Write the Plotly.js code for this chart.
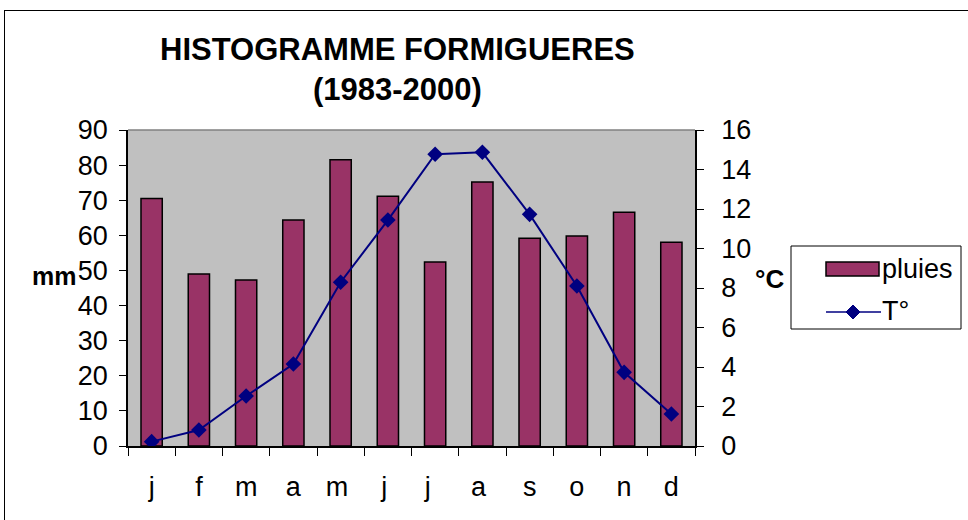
<!DOCTYPE html>
<html>
<head>
<meta charset="utf-8">
<script src="https://cdn.plot.ly/plotly-3.0.1.min.js"></script>
<style>
html,body{margin:0;padding:0;background:#fff;overflow:hidden;}
#frame{position:absolute;left:4px;top:10px;width:1200px;height:800px;border:1.5px solid #000;}
#chart{position:absolute;left:0;top:0;width:968px;height:520px;}
</style>
</head>
<body>
<div id="frame"></div>
<div id="chart"></div>
<script>
var months = ['j','f','m','a','m ','j ','j  ','a ','s','o','n','d'];
var pluies = [70.5, 49.0, 47.3, 64.4, 81.5, 71.1, 52.4, 75.2, 59.2, 59.8, 66.6, 58.0];
var temp = [0.22, 0.81, 2.53, 4.15, 8.29, 11.44, 14.77, 14.87, 11.73, 8.10, 3.73, 1.62];
var yTicks = [0,10,20,30,40,50,60,70,80,90];
var y2Ticks = [0,2,4,6,8,10,12,14,16];
var seriesNames = ['pluies', 'T°'];

var font = 'Liberation Sans, Arial, sans-serif';
var barColor = '#993366', lineColor = '#000080';

var traces = [
  {
    type: 'bar', x: months, y: pluies, name: seriesNames[0], yaxis: 'y',
    marker: {color: barColor, line: {color: '#000', width: 1.5}}
  },
  {
    type: 'scatter', mode: 'lines+markers', x: months, y: temp, name: seriesNames[1], yaxis: 'y2',
    line: {color: lineColor, width: 2},
    marker: {symbol: 'diamond', size: 12, color: lineColor}
  }
];

// plot-area pixel geometry helpers (for title/legend placement only)
var L = 128, R = 695, T = 130, B = 446;
function px(x){ return (x - L) / (R - L); }
function py(y){ return (B - y) / (B - T); }

var layout = {
  width: 968, height: 520,
  margin: {l: L, r: 968 - R, t: T, b: 520 - B, autoexpand: false},
  paper_bgcolor: 'rgba(0,0,0,0)',
  plot_bgcolor: '#c0c0c0',
  bargap: 0.55,
  showlegend: false,
  font: {family: font, size: 27, color: '#000'},
  xaxis: {
    type: 'category', range: [-0.5, 11.5], autorange: false,
    tickson: 'boundaries', ticks: 'outside', ticklen: 8, tickcolor: '#000', tickwidth: 1.2,
    showline: true, linecolor: '#000', linewidth: 1.5, showgrid: false, zeroline: false,
    tickfont: {family: font, size: 27}, ticklabelstandoff: 16
  },
  yaxis: {
    range: [0, 90], autorange: false, tickvals: yTicks, ticks: 'outside', ticklen: 7, tickcolor: '#000', tickwidth: 1.2,
    showline: true, linecolor: '#000', linewidth: 1.5, showgrid: false, zeroline: false,
    tickfont: {family: font, size: 27}, ticklabelstandoff: 6
  },
  yaxis2: {
    range: [0, 16], autorange: false, tickvals: y2Ticks, overlaying: 'y', side: 'right',
    ticks: 'outside', ticklen: 7, tickcolor: '#000', tickwidth: 1.2,
    showline: true, linecolor: '#000', linewidth: 1.5, showgrid: false, zeroline: false,
    tickfont: {family: font, size: 27}, ticklabelstandoff: 12
  },
  shapes: [
    {type: 'line', xref: 'paper', yref: 'paper', x0: 0, x1: 1, y0: 1, y1: 1,
     line: {color: '#808080', width: 1.5}},
    // legend box
    {type: 'rect', xref: 'paper', yref: 'paper', x0: px(791), x1: px(961), y0: py(246), y1: py(329),
     fillcolor: '#fff', line: {color: '#000', width: 1}},
    // legend bar symbol
    {type: 'rect', xref: 'paper', yref: 'paper', x0: px(826), x1: px(879), y0: py(262), y1: py(276),
     fillcolor: barColor, line: {color: '#000', width: 1.5}},
    // legend line symbol
    {type: 'line', xref: 'paper', yref: 'paper', x0: px(826), x1: px(881), y0: py(312), y1: py(312),
     line: {color: lineColor, width: 1.5}},
    {type: 'path', xref: 'paper', yref: 'paper',
     path: 'M ' + px(853) + ' ' + py(305) + ' L ' + px(860) + ' ' + py(312) + ' L ' + px(853) + ' ' + py(319) + ' L ' + px(846) + ' ' + py(312) + ' Z',
     fillcolor: lineColor, line: {color: lineColor, width: 1}}
  ],
  annotations: [
    {text: '<b>HISTOGRAMME FORMIGUERES</b><br><b>(1983-2000)</b>', xref: 'paper', yref: 'paper',
     x: px(397), y: py(69), xanchor: 'center', yanchor: 'middle', showarrow: false,
     font: {family: font, size: 31}, align: 'center'},
    {text: '<b>mm</b>', xref: 'paper', yref: 'paper', x: px(78), y: py(276),
     xanchor: 'right', yanchor: 'middle', showarrow: false, font: {family: font, size: 25}},
    {text: '<b>°C</b>', xref: 'paper', yref: 'paper', x: px(769), y: py(279),
     xanchor: 'center', yanchor: 'middle', showarrow: false, font: {family: font, size: 26}},
    {text: seriesNames[0], xref: 'paper', yref: 'paper', x: px(880), y: py(269),
     xanchor: 'left', yanchor: 'middle', showarrow: false, font: {family: font, size: 27}},
    {text: seriesNames[1], xref: 'paper', yref: 'paper', x: px(880), y: py(311),
     xanchor: 'left', yanchor: 'middle', showarrow: false, font: {family: font, size: 27}}
  ]
};

Plotly.newPlot('chart', traces, layout, {displayModeBar: false});
</script>
</body>
</html>
